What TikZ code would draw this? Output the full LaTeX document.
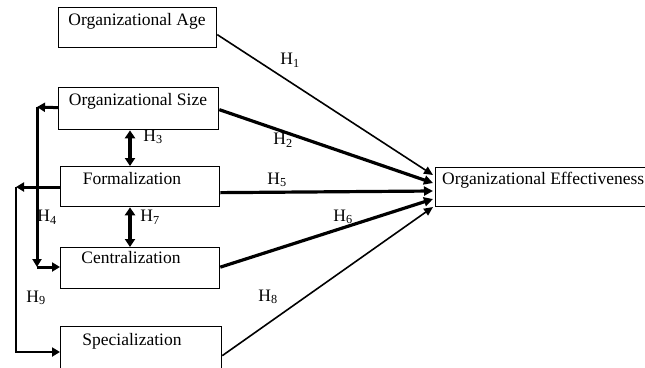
\documentclass[tikz,border=0pt]{standalone}
\usepackage{fontspec}
\setmainfont{Liberation Serif}
\usetikzlibrary{arrows.meta}
\begin{document}
\begin{tikzpicture}[x=1pt,y=-1pt,
  every node/.style={font=\fontsize{17.5}{20}\selectfont},
  box/.style={draw,line width=1.3pt,inner sep=0pt,anchor=north west},
  txt/.style={anchor=base,inner sep=0pt},
  hyp/.style={inner sep=0pt},
  thin/.style={line width=1.6pt,-{Triangle[length=9pt,width=8pt]}},
  thick/.style={line width=3.2pt,-{Triangle[length=9pt,width=9pt]}},
  dbl/.style={line width=3.2pt,{Triangle[length=8pt,width=10pt]}-{Triangle[length=8pt,width=10pt]}},
  elbow/.style={line width=3pt},
  tip/.style={-{Triangle[length=8pt,width=9pt]}}
]
\useasboundingbox (0,0) rectangle (645,367);
\clip (0,0) rectangle (645,367);

% boxes
\node[box,minimum width=158pt,minimum height=40pt] (age) at (58,7) {};
\node[box,minimum width=160pt,minimum height=42pt] (size) at (58,87) {};
\node[box,minimum width=159pt,minimum height=40pt] (form) at (60,166) {};
\node[box,minimum width=159pt,minimum height=41pt] (cent) at (60,247) {};
\node[box,minimum width=161pt,minimum height=48pt] (spec) at (60,326) {};
\node[box,minimum width=215pt,minimum height=39pt] (eff) at (435,167) {};

% box texts
\node[txt] (ageT) at (137,25) {Organizational Age};
\node[txt] (sizeT) at (138,105) {Organizational Size};
\node[txt] (formT) at (132,184) {Formalization};
\node[txt] (centT) at (131,263) {Centralization};
\node[txt] (specT) at (132,345) {Specialization};
\node[txt,anchor=base west] (effT) at (442,184) {Organizational Effectiveness};

% arrow tips on effectiveness
\coordinate (e1) at (433,175);
\coordinate (e2) at (433,183);
\coordinate (e3) at (433,191);
\coordinate (e4) at (433,199);
\coordinate (e5) at (433,207);

\draw[thin] ([yshift=-7pt]age.east) -- (e1);
\draw[thick] ([yshift=-1pt]size.east) -- (e2);
\draw[thick] ([yshift=-6pt]form.east) -- (e3);
\draw[thick] ([yshift=1pt]cent.east) -- (e4);
\draw[thin] ([yshift=-5pt]spec.west -| spec.east) -- (e5);

% vertical double arrows
\draw[dbl] (size.south -| 130,0) -- (form.north -| 130,0);
\draw[dbl] (form.south -| 130,0) -- (cent.north -| 130,0);

% left elbow connectors
\coordinate (c1) at (37,107);
\coordinate (c2) at (37,267);
\draw[elbow,tip] ([yshift=1pt]size.west) -- (c1);
\draw[elbow,tip] (c1) -- (c2);
\draw[elbow,tip] (c2) -- (cent.west |- c2);

\coordinate (c3) at (16,187);
\coordinate (c4) at (16,352);
\draw[elbow,tip] (form.west |- c3) -- (c3);
\draw[line width=2.4pt,tip] (c3) -- (c4) -- (spec.west |- c4);

% hypothesis labels
\node[hyp] (h1) at (290,60) {H\textsubscript{1}};
\node[hyp] (h2) at (283,140) {H\textsubscript{2}};
\node[hyp] (h3) at (153,137) {H\textsubscript{3}};
\node[hyp] (h4) at (47,217) {H\textsubscript{4}};
\node[hyp] (h5) at (277,180) {H\textsubscript{5}};
\node[hyp] (h6) at (343,217) {H\textsubscript{6}};
\node[hyp] (h7) at (150,217) {H\textsubscript{7}};
\node[hyp] (h8) at (268,297) {H\textsubscript{8}};
\node[hyp] (h9) at (36,298) {H\textsubscript{9}};
\end{tikzpicture}
\end{document}
